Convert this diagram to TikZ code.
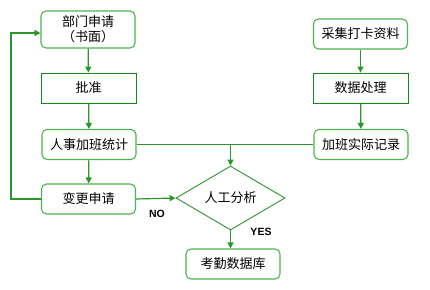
\documentclass[tikz,border=0pt]{standalone}
\usepackage{fontspec}
\setmainfont{Noto Sans CJK SC}
\newfontfamily\latinb{Liberation Sans}
\usetikzlibrary{shapes.geometric,arrows.meta,calc}
\definecolor{darkg}{HTML}{138A13}
\definecolor{lightg}{HTML}{4DB24D}
\definecolor{lineg}{HTML}{2A962A}
\begin{document}
\begin{tikzpicture}[x=1pt,y=-1pt,
  rbox/.style={draw=lightg,line width=1.1pt,rounded corners=5pt,minimum width=94pt,minimum height=30pt,inner sep=0pt,font=\fontsize{13}{15}\selectfont,align=center},
  sbox/.style={draw=darkg,line width=0.8pt,minimum width=95pt,minimum height=30pt,inner sep=0pt,font=\fontsize{13}{15}\selectfont},
  dia/.style={draw=lineg,line width=0.9pt,diamond,minimum width=109pt,minimum height=50pt,inner sep=0pt,font=\fontsize{13}{15}\selectfont},
  conn/.style={draw=lineg,line width=1.2pt},
  arr/.style={conn,-{Triangle[length=6pt,width=6pt]}},
  lab/.style={font=\latinb\bfseries\fontsize{10.5}{12}\selectfont}]
\useasboundingbox (0,0) rectangle (430,289);
\node[rbox,minimum height=37pt,text width=90pt] (b1) at (88,29.5) {部门申请\\（书面）};
\node[sbox] (b2) at (88.5,88) {批准};
\node[rbox] (b3) at (89,144.5) {人事加班统计};
\node[rbox] (b4) at (88.5,199) {变更申请};
\node[rbox] (r1) at (360.5,34) {采集打卡资料};
\node[sbox] (r2) at (360.5,88) {数据处理};
\node[rbox] (r3) at (361,144.5) {加班实际记录};
\node[dia] (d) at (230.5,198) {人工分析};
\node[rbox] (k) at (233,264) {考勤数据库};
\coordinate (j) at (d.north |- b3.east);
\coordinate (lp) at (11,33);
\draw[arr] (b1) -- (b2);
\draw[arr] (b2) -- (b3);
\draw[arr] (b3) -- (b4);
\draw[arr] (r1) -- (r2);
\draw[arr] (r2) -- (r3);
\draw[conn] (b3.east) -- (r3.west);
\draw[arr] (j) -- (d.north);
\draw[arr] (b4.east) -- (d.west);
\draw[arr] (d.south) -- (d.south |- k.north);
\draw[arr] (b4.west) -| (lp) -- (lp -| b1.west);
\node[lab] (no) at (157,214) {NO};
\node[lab] (yes) at (261,232) {YES};
\end{tikzpicture}
\end{document}
